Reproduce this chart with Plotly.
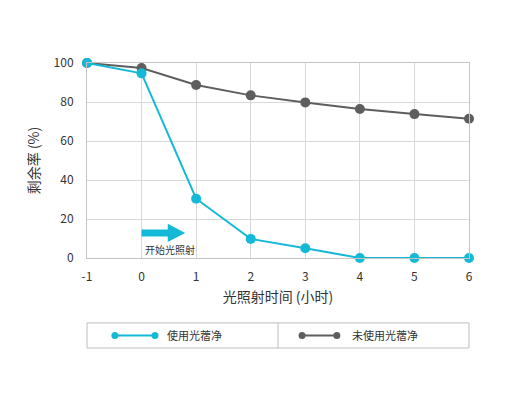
import plotly.graph_objects as go

hours = [-1, 0, 1, 2, 3, 4, 5, 6]
hour_labels = ["-1", "0", "1", "2", "3", "4", "5", "6"]
with_cat = [100, 94.7, 30.4, 9.8, 5.0, 0, 0, 0]
without_cat = [100, 97.4, 88.7, 83.4, 79.8, 76.4, 73.8, 71.4]
series_names = ["使用光蓿净", "未使用光蓿净"]
y_ticks = [0, 20, 40, 60, 80, 100]

BLUE = "#14b9d8"
GRAY = "#5e5e5e"
FONT = "Noto Sans CJK SC"

fig = go.Figure()
fig.add_trace(go.Scatter(x=hours, y=without_cat, mode="lines+markers",
                         line=dict(color=GRAY, width=2), marker=dict(size=10, color=GRAY),
                         cliponaxis=False, name=series_names[1], showlegend=False))
fig.add_trace(go.Scatter(x=hours, y=with_cat, mode="lines+markers",
                         line=dict(color=BLUE, width=2), marker=dict(size=10, color=BLUE),
                         cliponaxis=False, name=series_names[0], showlegend=False))

shapes = []
shapes.append(dict(type="line", xref="x", yref="y", x0=0, x1=0, y0=0, y1=with_cat[1],
                   line=dict(color="#8fd6e6", width=1), layer="below"))
shapes.append(dict(type="path", xref="x", yref="y",
                   path="M 0,11 L 0.48,11 L 0.48,8.2 L 0.8,12.8 L 0.48,17.6 L 0.48,14.6 L 0,14.6 Z",
                   fillcolor=BLUE, line=dict(width=0)))

ly0, ly1 = -0.333, -0.4615
lyc = (ly0 + ly1) / 2
shapes.append(dict(type="rect", xref="paper", yref="paper", x0=0, x1=1, y0=ly0, y1=ly1,
                   line=dict(color="#bdbdbd", width=1)))
shapes.append(dict(type="line", xref="paper", yref="paper", x0=0.5, x1=0.5, y0=ly0, y1=ly1,
                   line=dict(color="#bdbdbd", width=1)))
legend_items = [(0.073, 0.178, 0.204, BLUE, series_names[0]),
                (0.563, 0.654, 0.688, GRAY, series_names[1])]
annotations = []
for xa, xb, xt, col, name in legend_items:
    shapes.append(dict(type="line", xref="paper", yref="paper", x0=xa, x1=xb, y0=lyc, y1=lyc,
                       line=dict(color=col, width=2)))
    for xm in (xa, xb):
        shapes.append(dict(type="circle", xref="paper", yref="paper",
                           xsizemode="pixel", ysizemode="pixel", xanchor=xm, yanchor=lyc,
                           x0=-3.5, x1=3.5, y0=-3.5, y1=3.5, fillcolor=col, line=dict(width=0)))
    annotations.append(dict(xref="paper", yref="paper", x=xt, y=lyc, text=name, showarrow=False,
                            xanchor="left", yanchor="middle", font=dict(size=11, color="#333333", family=FONT)))

annotations.append(dict(xref="x", yref="y", x=0.02, y=4.5, text="开始光照射", showarrow=False,
                        xanchor="left", yanchor="middle", font=dict(size=10, color="#333333", family=FONT)))

fig.update_layout(
    width=510, height=397,
    margin=dict(l=79, r=49, t=55, b=147, autoexpand=False),
    paper_bgcolor="white", plot_bgcolor="white",
    font=dict(family=FONT, color="#333333", size=12),
    shapes=shapes, annotations=annotations,
    xaxis=dict(range=[-1, 6], tickvals=hours, ticktext=hour_labels, ticks="", showgrid=True,
               gridcolor="#d9d9d9", showline=True, linecolor="#c4c4c4", mirror=True, zeroline=False,
               ticklabelstandoff=8,
               title=dict(text="光照射时间 (小时)", font=dict(size=14), standoff=8),
               tickfont=dict(size=12)),
    yaxis=dict(range=[0, 100], tickvals=y_ticks, ticks="", showgrid=True, gridcolor="#d9d9d9",
               showline=True, linecolor="#c4c4c4", mirror=True, zeroline=False,
               ticklabelstandoff=10,
               title=dict(text="剩余率 (%)", font=dict(size=14), standoff=10),
               tickfont=dict(size=12)),
)

fig.write_html("out.html")
